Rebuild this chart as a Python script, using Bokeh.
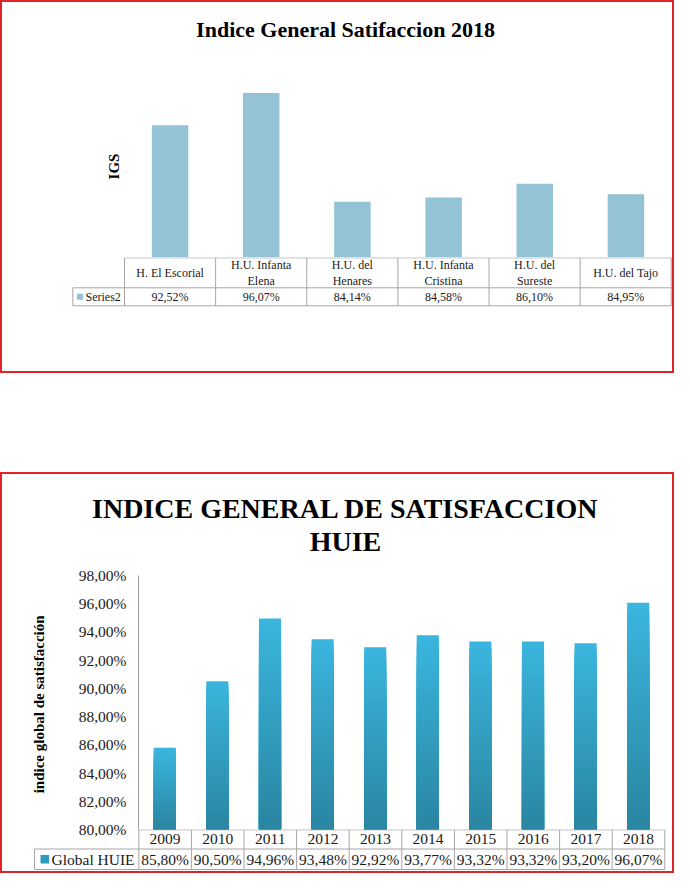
from bokeh.plotting import figure
from bokeh.models import Range1d, FactorRange, FixedTicker, Column, Title
from bokeh.embed import file_html
from bokeh.resources import INLINE
from bokeh.core.properties import value

# ---------------- data ----------------
hospitals = ["H. El Escorial", "H.U. Infanta Elena", "H.U. del Henares",
             "H.U. Infanta Cristina", "H.U. del Sureste", "H.U. del Tajo"]
hospital_labels = ["H. El Escorial", "H.U. Infanta\nElena", "H.U. del\nHenares",
                   "H.U. Infanta\nCristina", "H.U. del\nSureste", "H.U. del Tajo"]
igs_2018 = [92.52, 96.07, 84.14, 84.58, 86.10, 84.95]
series_top = "Series2"
title_top = "Indice General Satifaccion 2018"
ylabel_top = "IGS"

years = ["2009", "2010", "2011", "2012", "2013", "2014", "2015", "2016", "2017", "2018"]
huie = [85.80, 90.50, 94.96, 93.48, 92.92, 93.77, 93.32, 93.32, 93.20, 96.07]
series_bottom = "Global HUIE"
title_bottom_1 = "INDICE GENERAL DE SATISFACCION"
title_bottom_2 = "HUIE"
ylabel_bottom = "indice global  de satisfacción"
y_ticks = [80, 82, 84, 86, 88, 90, 92, 94, 96, 98]

# ---------------- styles ----------------
FONT = "Liberation Serif"
RED = "#e3232a"
GRID = "#a6a6a6"
TXT = "#1a1a1a"
TOP_BAR = "#93c3d5"
LIGHT = (58, 181, 221)
DARK = (42, 134, 162)
LEG_BOT = "#2e9cbf"
W = 670


def pct(v):
    return f"{v:.2f}".replace(".", ",") + "%"


def fig(**kw):
    p = figure(output_backend="svg", toolbar_location=None, frame_align=False, **kw)
    p.grid.visible = False
    p.background_fill_color = "white"
    p.border_fill_color = "white"
    p.outline_line_color = None
    return p


def style_title(t, size):
    t.align = "center"
    t.standoff = 0
    t.text_font = FONT
    t.text_font_size = size
    t.text_font_style = "bold"
    t.text_color = "black"


def title_fig(lines, height, top, size):
    # first line is the outermost, the last one sits closest to the frame
    p = fig(width=W, height=height, x_axis_location=None, y_axis_location=None,
            min_border_left=16, min_border_right=0, min_border_top=top,
            min_border_bottom=0, title=lines[0])
    style_title(p.title, size)
    for line in lines[1:]:
        t = Title(text=line)
        style_title(t, size)
        p.add_layout(t, "above")
    return p


def table(p, n, left, h_val, h_cat, cat_labels, vals, leg_color, leg_size, leg_text,
          leg_x, text_x, fsize, cat_line_height):
    top = h_val + h_cat
    x0 = [0, left, left]
    x1 = [n, n, n]
    yy = [top, h_val, 0]
    p.segment(x0=x0, y0=yy, x1=x1, y1=yy, line_color=GRID, line_width=1)
    vx = [left] + list(range(n + 1))
    vy0 = [0] * (n + 2)
    vy1 = [h_val] + [top] * (n + 1)
    p.segment(x0=vx, y0=vy0, x1=vx, y1=vy1, line_color=GRID, line_width=1)
    cx = [i + 0.5 for i in range(n)]
    p.text(x=cx, y=[h_val + h_cat / 2] * n, text=cat_labels, text_align="center",
           text_baseline="middle", text_font=value(FONT), text_font_size=fsize,
           text_color=TXT, text_line_height=cat_line_height)
    p.text(x=cx, y=[h_val / 2] * n, text=[pct(v) for v in vals], text_align="center",
           text_baseline="middle", text_font=value(FONT), text_font_size=fsize,
           text_color=TXT)
    p.scatter(x=[leg_x], y=[h_val / 2], marker="square", size=leg_size,
              fill_color=leg_color, line_color=None)
    p.text(x=[text_x], y=[h_val / 2], text=[leg_text], text_align="left",
           text_baseline="middle", text_font=value(FONT), text_font_size=fsize,
           text_color=TXT)


# ================= top chart =================
ta = title_fig([title_top], 41, 39, "22px")

pa = fig(width=W, height=214, x_range=FactorRange(factors=hospitals),
         y_range=Range1d(78, 98), x_axis_location=None,
         min_border_left=122, min_border_right=1, min_border_top=32,
         min_border_bottom=0)
pa.vbar(x=hospitals, top=igs_2018, bottom=78, width=0.4, fill_color=TOP_BAR,
        line_color=None)
ya = pa.yaxis[0]
ya.ticker = FixedTicker(ticks=[])
ya.axis_line_color = None
ya.major_tick_line_color = None
ya.minor_tick_line_color = None
ya.major_tick_out = 0
ya.major_label_standoff = 0
ya.axis_label = ylabel_top
ya.axis_label_standoff = 3
ya.axis_label_text_font = FONT
ya.axis_label_text_font_size = "15px"
ya.axis_label_text_font_style = "bold"
ya.axis_label_text_color = "black"

pxu_top = 91.13
x0_top = -(124 - 70) / pxu_top
pb_top = fig(width=W, height=114,
             x_range=Range1d(x0_top, x0_top + 602 / pxu_top),
             y_range=Range1d(-9.7, 48.3), x_axis_location=None, y_axis_location=None,
             min_border_left=68, min_border_right=0, min_border_top=0,
             min_border_bottom=56)
table(pb_top, len(hospitals), -(124 - 72.3) / pxu_top, 18, 30, hospital_labels, igs_2018,
      TOP_BAR, 6, series_top, -(124 - 79.5) / pxu_top, -(124 - 85) / pxu_top, "12px", 1.17)

top_col = Column(children=[ta, pa, pb_top], margin=(2, 0, 0, 2),
                 styles={"outline": f"2px solid {RED}"})

# ================= bottom chart =================
tb = title_fig([title_bottom_1, title_bottom_2], 84, 82, "28px")

OVER = 14  # room below the frame so the lowest tick label is not cut
pc = fig(width=W, height=271 + OVER, x_range=FactorRange(factors=years),
         y_range=Range1d(y_ticks[0], y_ticks[-1]), x_axis_location=None,
         min_border_left=136, min_border_right=8, min_border_top=17,
         min_border_bottom=OVER)

N = 30
for k in range(N):
    f = 1 - k / N
    frac = k / (N - 1)
    col = "#%02x%02x%02x" % tuple(int(round(LIGHT[i] + (DARK[i] - LIGHT[i]) * frac)) for i in range(3))
    pc.vbar(x=years, top=[y_ticks[0] + (v - y_ticks[0]) * f for v in huie],
            bottom=y_ticks[0], width=0.42, fill_color=col, line_color=None)

yc = pc.yaxis[0]
yc.ticker = FixedTicker(ticks=y_ticks)
yc.major_label_overrides = {t: pct(t) for t in y_ticks}
yc.axis_line_color = "#9a9a9a"
yc.major_tick_line_color = None
yc.minor_tick_line_color = None
yc.major_tick_out = 0
yc.major_label_standoff = 12
yc.major_label_text_font = FONT
yc.major_label_text_font_size = "15.5px"
yc.major_label_text_color = TXT
yc.axis_label = ylabel_bottom
yc.axis_label_standoff = 29
yc.axis_label_text_font = FONT
yc.axis_label_text_font_size = "15px"
yc.axis_label_text_font_style = "bold"
yc.axis_label_text_color = "black"

pxu_bot = 52.6
x0_bot = -(138.3 - 32) / pxu_bot
pd = fig(width=W, height=42,
         x_range=Range1d(x0_bot, x0_bot + 636 / pxu_bot),
         y_range=Range1d(-2, 40), x_axis_location=None, y_axis_location=None,
         min_border_left=30, min_border_right=4, min_border_top=0,
         min_border_bottom=0)
pd.background_fill_color = None
pd.border_fill_color = None
pd.margin = (-OVER, 0, 0, 0)
table(pd, len(years), -(138.3 - 34) / pxu_bot, 20.5, 19.2, years, huie,
      LEG_BOT, 8.5, series_bottom, -(138.3 - 44.3) / pxu_bot, -(138.3 - 51) / pxu_bot,
      "15.5px", 1.2)

bot_col = Column(children=[tb, pc, pd], margin=(103, 0, 0, 2),
                 styles={"outline": f"2px solid {RED}"})

root = Column(children=[top_col, bot_col])

open("out.html", "w").write(file_html(root, INLINE))
